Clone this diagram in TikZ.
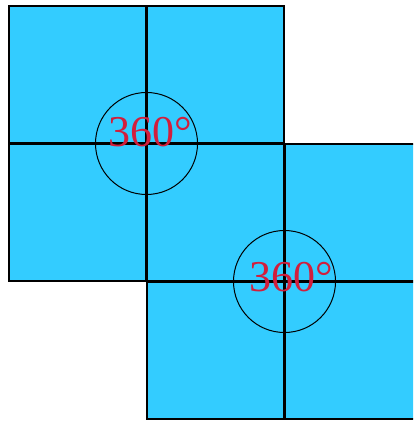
\documentclass[tikz,border=0pt]{standalone}
\usepackage{fontspec}
\setmainfont{Liberation Serif}
\usetikzlibrary{positioning}
\definecolor{tilecyan}{RGB}{51,204,255}
\definecolor{degred}{RGB}{210,30,60}

\begin{document}
\begin{tikzpicture}[x=0.5pt,y=-0.5pt]
\tikzstyle{tile} = [fill=tilecyan, draw=black, line width=1pt]
\tikzstyle{cross} = [draw, line width=1.5pt]
\tikzstyle{ring} = [circle, draw, line width=0.5pt, minimum size=51pt, inner sep=0pt]
\tikzstyle{degtext} = [text=degred, font=\fontsize{22}{22}\selectfont, anchor=base, inner sep=0pt]

\useasboundingbox (0,0) rectangle (413,421);
\clip (0,0) rectangle (413,421);

% the two tiles
\path [tile] (9,6) rectangle (284,281);
\path [tile] (147,144) rectangle (422,419);

% crosses through the tile centres
\path [cross] (146.5,6) -- (146.5,281);
\path [cross] (9,143.5) -- (284,143.5);
\path [cross] (284.5,144) -- (284.5,419);
\path [cross] (147,281.5) -- (422,281.5);

\node [ring] (ringA) at (146.5,143.5) {};
\node [ring] (ringB) at (284.5,281.5) {};

\node [degtext] (degA) at (150,147) {360°};
\node [degtext] (degB) at (291,292) {360°};

\end{tikzpicture}
\end{document}
